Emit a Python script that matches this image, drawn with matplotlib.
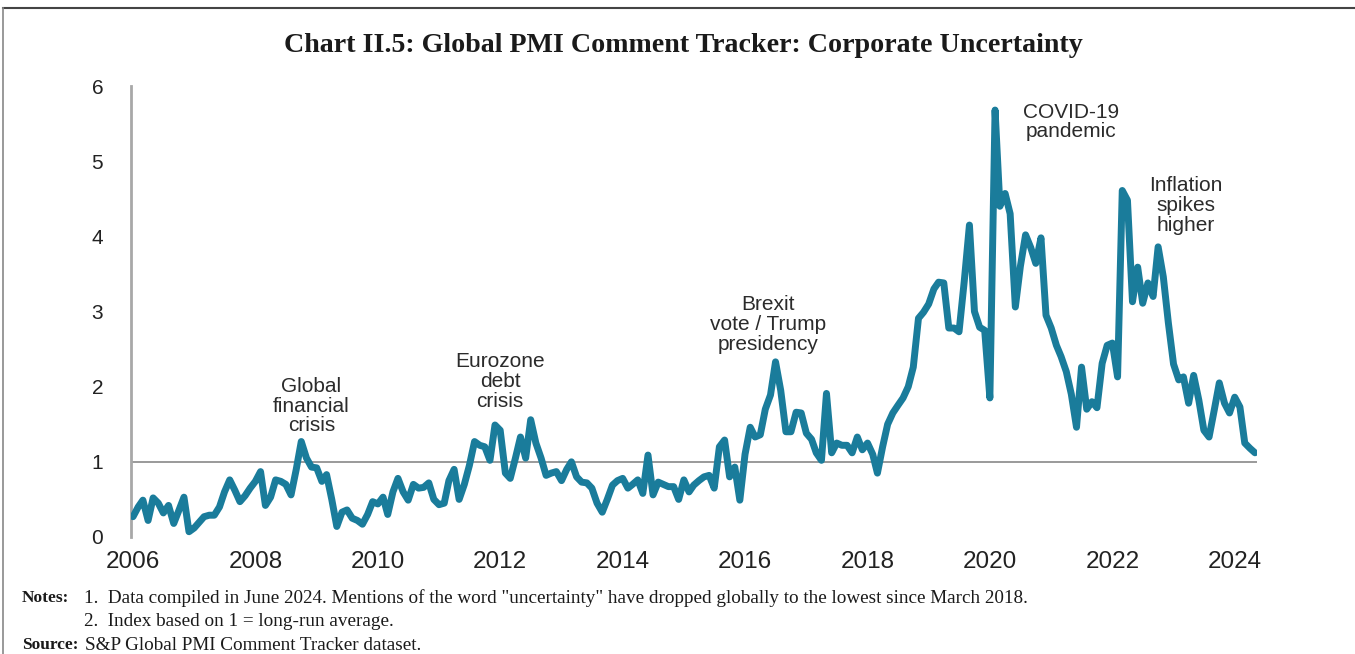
import pandas as pd
import matplotlib
matplotlib.use("Agg")
import matplotlib.pyplot as plt
import matplotlib.dates as mdates
from matplotlib.lines import Line2D

# monthly index, Jan 2006 - May 2024 (1 = long-run average)
uncertainty = [
    0.27, 0.40, 0.49, 0.22, 0.52, 0.45, 0.32, 0.42, 0.18, 0.35, 0.53, 0.07,  # 2006
    0.12, 0.20, 0.27, 0.29, 0.29, 0.40, 0.60, 0.76, 0.62, 0.47, 0.55, 0.65,  # 2007
    0.74, 0.87, 0.42, 0.53, 0.76, 0.74, 0.70, 0.56, 0.90, 1.27, 1.05, 0.93,  # 2008
    0.92, 0.74, 0.83, 0.50, 0.14, 0.33, 0.36, 0.25, 0.22, 0.17, 0.30, 0.47,  # 2009
    0.44, 0.53, 0.30, 0.60, 0.78, 0.60, 0.49, 0.70, 0.65, 0.66, 0.72, 0.50,  # 2010
    0.43, 0.45, 0.75, 0.90, 0.50, 0.70, 0.95, 1.27, 1.22, 1.20, 1.02, 1.49,  # 2011
    1.42, 0.85, 0.78, 1.05, 1.33, 1.05, 1.56, 1.25, 1.05, 0.82, 0.85, 0.87,  # 2012
    0.75, 0.90, 1.00, 0.80, 0.73, 0.72, 0.65, 0.45, 0.33, 0.50, 0.69, 0.75,  # 2013
    0.78, 0.65, 0.70, 0.76, 0.58, 1.09, 0.56, 0.73, 0.70, 0.67, 0.67, 0.50,  # 2014
    0.76, 0.60, 0.69, 0.75, 0.80, 0.82, 0.65, 1.20, 1.29, 0.80, 0.93, 0.49,  # 2015
    1.10, 1.46, 1.33, 1.36, 1.70, 1.89, 2.33, 1.95, 1.40, 1.40, 1.66, 1.65,  # 2016
    1.38, 1.30, 1.12, 1.02, 1.91, 1.12, 1.25, 1.22, 1.22, 1.12, 1.33, 1.16,  # 2017
    1.25, 1.10, 0.85, 1.20, 1.50, 1.65, 1.75, 1.85, 2.00, 2.26, 2.91, 2.99,  # 2018
    3.10, 3.30, 3.39, 3.38, 2.78, 2.78, 2.73, 3.40, 4.15, 3.00, 2.79, 2.75,  # 2019
    1.85, 5.68, 4.40, 4.57, 4.30, 3.06, 3.60, 4.02, 3.85, 3.64, 3.98, 2.95,  # 2020
    2.78, 2.55, 2.40, 2.20, 1.90, 1.46, 2.26, 1.70, 1.80, 1.72, 2.31, 2.55,  # 2021
    2.58, 2.13, 4.61, 4.48, 3.13, 3.59, 3.11, 3.38, 3.20, 3.86, 3.46, 2.85,  # 2022
    2.30, 2.09, 2.13, 1.78, 2.15, 1.82, 1.42, 1.33, 1.69, 2.05, 1.78, 1.65,  # 2023
    1.86, 1.73, 1.25, 1.18, 1.12,                                            # 2024
]
start_month = "2006-01-01"

tick_years = list(range(2006, 2025, 2))
y_ticks = [0, 1, 2, 3, 4, 5, 6]

event_labels = ["Global\nfinancial\ncrisis", "Eurozone\ndebt\ncrisis",
                "Brexit\nvote / Trump\npresidency", "COVID-19\npandemic",
                "Inflation\nspikes\nhigher"]
event_dates = ["2008-12-01", "2012-01-01", "2016-05-15", "2021-05-01", "2023-03-15"]
event_y = [1.74, 2.07, 2.83, 5.52, 4.41]

title = "Chart II.5: Global PMI Comment Tracker: Corporate Uncertainty"
note1 = '1.  Data compiled in June 2024. Mentions of the word "uncertainty" have dropped globally to the lowest since March 2018.'
note2 = "2.  Index based on 1 = long-run average."
source = "S&P Global PMI Comment Tracker dataset."

W, H = 1355, 654
fig = plt.figure(figsize=(W / 100, H / 100), dpi=100)
ax = fig.add_axes([131 / W, 1 - 537 / H, (1257 - 131) / W, (537 - 86) / H])

dates = pd.date_range(start_month, periods=len(uncertainty), freq="MS")
ax.plot(dates, uncertainty, color="#1a7c9b", lw=5,
        solid_joinstyle="round", solid_capstyle="round", zorder=3)
ax.axhline(1, color="#9a9a9a", lw=1.4, zorder=2)

ax.set_ylim(0, 6)
ax.set_xlim(pd.Timestamp("2005-12-20"), pd.Timestamp("2024-05-13"))
ax.set_yticks(y_ticks)
ax.set_xticks([pd.Timestamp(f"{y}-01-01") for y in tick_years])
ax.xaxis.set_major_formatter(mdates.DateFormatter("%Y"))

for s in ["top", "right", "bottom"]:
    ax.spines[s].set_visible(False)
ax.spines["left"].set_color("#a8a8a8")
ax.spines["left"].set_linewidth(2)

ax.tick_params(axis="both", length=0, colors="#222222")
ax.tick_params(axis="x", labelsize=17.5, pad=10)
ax.tick_params(axis="y", labelsize=15, pad=20)
for lab in ax.get_xticklabels() + ax.get_yticklabels():
    lab.set_family("Liberation Sans")

for txt, d, yv in zip(event_labels, event_dates, event_y):
    ax.text(pd.Timestamp(d), yv, txt, ha="center", va="center", fontsize=15,
            family="Liberation Sans", color="#2b2b2b", linespacing=1.05)

fig.text(683 / W, 1 - 45 / H, title, ha="center", va="center", fontsize=20.2,
         fontweight="bold", family="Liberation Serif", color="#1a1a1a")

serif = dict(family="Liberation Serif", color="#1a1a1a", va="center")
fig.text(22 / W, 1 - 598 / H, "Notes:", fontweight="bold", fontsize=12.5, **serif)
fig.text(84 / W, 1 - 598 / H, note1, fontsize=13.8, **serif)
fig.text(84 / W, 1 - 622 / H, note2, fontsize=13.8, **serif)
fig.text(22 / W, 1 - 645 / H, "Source:", fontweight="bold", fontsize=12.5, **serif)
fig.text(85 / W, 1 - 645 / H, source, fontsize=13.8, **serif)

# page frame
fig.add_artist(Line2D([3 / W, 1], [1 - 8 / H, 1 - 8 / H], transform=fig.transFigure,
                      color="#444444", lw=1.5))
fig.add_artist(Line2D([3 / W, 3 / W], [0, 1 - 8 / H], transform=fig.transFigure,
                      color="#888888", lw=1.2))

fig.savefig("out.png", dpi=100)
